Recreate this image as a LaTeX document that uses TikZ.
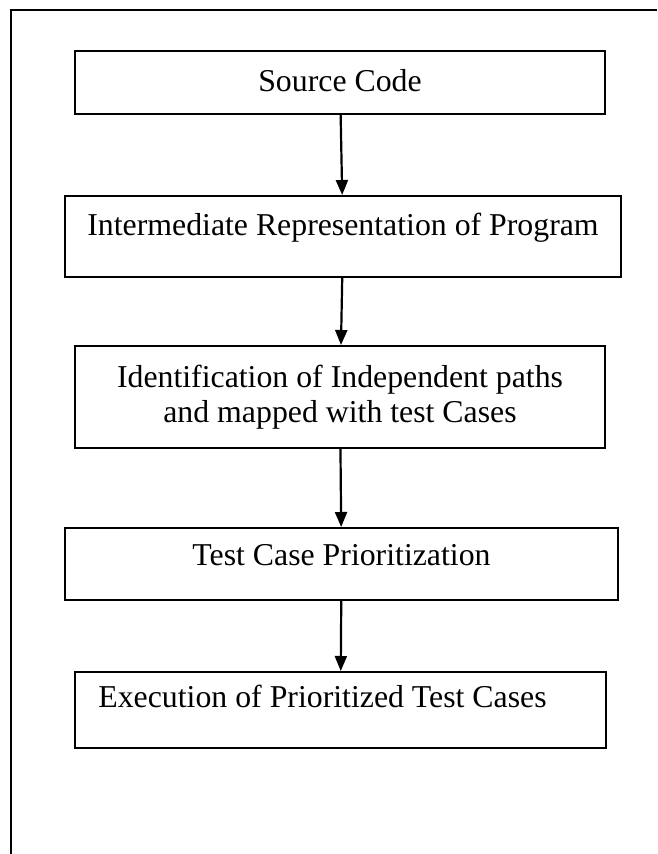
\documentclass[tikz,border=0pt]{standalone}
\usepackage{fontspec}
\setmainfont{Liberation Serif}
\usetikzlibrary{arrows.meta}

\begin{document}
\begin{tikzpicture}[x=.5pt,y=-.5pt,
  stage/.style={draw, line width=1pt, rectangle, inner sep=0pt,
    font=\fontsize{15.9pt}{17.5pt}\selectfont},
  oneline/.style={text height=10.5pt, text depth=#1},
  flow/.style={line width=1.1pt, -{Triangle[length=7.5pt,width=6pt]}}]
\useasboundingbox (0,0) rectangle (657,854);
\draw[line width=1pt] (11,854) -- (11,10) -- (657,10);
\node[stage, oneline=1.5pt, minimum width=265pt, minimum height=31.5pt] (src) at (340,82.5) {Source Code};
\node[stage, oneline=11pt, minimum width=278pt, minimum height=40.5pt] (ir) at (343,236.5) {Intermediate Representation of Program};
\node[stage, align=center, minimum width=265pt, minimum height=51pt] (paths) at (340,397) {Identification of Independent paths\\and mapped with test Cases};
\node[stage, oneline=9pt, minimum width=276.5pt, minimum height=36pt] (prio) at (341.5,564) {Test Case Prioritization};
\node[stage, oneline=13pt, minimum width=265.5pt, minimum height=38pt] (exec) at (340.5,710) {Execution of Prioritized Test Cases\hspace*{18pt}};
\draw[flow] (src) -- (ir);
\draw[flow] (ir) -- (paths);
\draw[flow] (paths) -- (prio);
\draw[flow] (prio) -- (exec);
\end{tikzpicture}
\end{document}
